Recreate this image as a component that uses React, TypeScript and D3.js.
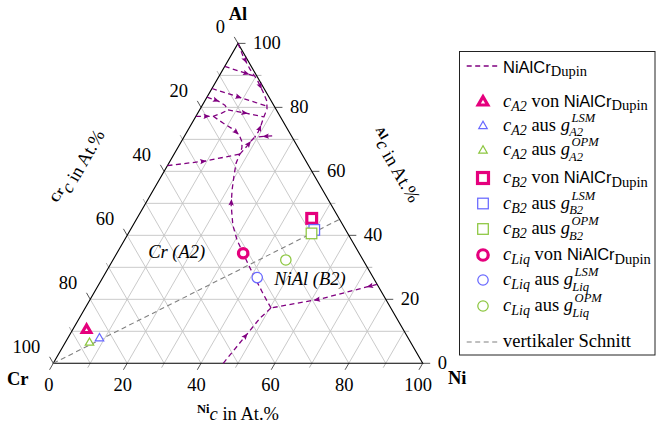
import React from 'react';
import * as d3 from 'd3';

// ---------------- data (compositions in at.%: [Ni, Al], Cr = 100 - Ni - Al) ----------------
const gridValues = [10, 20, 30, 40, 50, 60, 70, 80, 90];
const tickValues = [0, 10, 20, 30, 40, 50, 60, 70, 80, 90, 100];
const tickLabels = [0, 20, 40, 60, 80, 100];

const curveSpineTop = [[0, 100], [3.3, 96.1], [7.2, 92.0], [10.9, 88.6], [14.4, 84.8], [16.8, 82.0], [18.1, 79.5], [18.5, 77.0], [19.0, 74.5], [19.3, 72.3], [19.2, 70.7]];
const curveSpineMid = [[17.8, 65.4], [18.4, 67.6], [18.8, 69.5], [19.2, 70.7]];
const curveShortRight = [[23.7, 71.1], [19.2, 70.7]];
const curveSpineLow = [[50.3, 17.3], [48.1, 19.5], [45.4, 22.3], [41.9, 26.0], [37.8, 30.4], [34.1, 34.5], [30.5, 38.5], [27.0, 43.2], [23.4, 49.5], [21.3, 54.2], [19.5, 58.9], [18.2, 62.6], [17.8, 65.4]];
const curveEdgeToE = [[75.3, 24.7], [62.2, 20.1], [50.3, 17.3]];
const curveBaseToE = [[46.0, 0], [48.9, 14.1], [50.3, 17.3]];
const curveL1 = [[0, 92.8], [9.8, 89.7]];
const curveL2 = [[0, 85.9], [17.6, 80.4]];
const curveL3 = [[0, 83.2], [3.6, 82.0], [6.1, 80.7], [7.7, 79.2]];
const curveL4 = [[0, 77.2], [4.7, 77.2], [6.5, 78.2], [7.7, 79.2]];
const curveBranch = [[4.7, 77.2], [8.4, 75.1], [12.0, 73.2], [14.6, 71.4], [16.5, 69.2], [17.4, 67.3], [17.8, 65.4]];
const curveL3b = [[7.7, 79.2], [13.4, 78.1], [18.5, 77.0]];
const curveL5 = [[0, 61.8], [9.4, 63.2], [17.8, 65.4]];

const dupinCurves = [curveSpineTop, curveSpineMid, curveShortRight, curveSpineLow, curveEdgeToE, curveBaseToE, curveL1, curveL2, curveL3, curveL4, curveBranch, curveL3b, curveL5];
// [curve index, segment index, fraction along segment, reversed]
const dupinArrows: [number, number, number, boolean][] = [
  [0, 1, 0.3, false], [0, 3, 0.5, false], [0, 8, 0.5, true], [1, 1, 0.5, false], [2, 0, 0.35, false],
  [3, 8, 0.15, false], [4, 0, 0.12, false], [4, 1, 0.06, false], [5, 0, 0.6, false], [6, 0, 0.7, false],
  [7, 0, 0.48, false], [8, 0, 0.8, false], [9, 0, 0.6, false], [10, 2, 0.5, false], [11, 0, 0.85, false], [12, 0, 0.95, false],
];

// order: Dupin, LSM, OPM
const cA2 = [[3.7, 10.6], [8.5, 8.0], [6.5, 6.6]];
const cB2 = [[47.3, 45.3], [49.8, 41.7], [49.6, 40.6]];
const cLiq = [[34.2, 34.4], [41.8, 26.8], [46.8, 32.3]];
const verticalSection = [[0, 0], [55, 45]];
const regionLabels = ['Cr (A2)', 'NiAl (B2)'];
const regionLabelPos = [[16.0, 34.8], [56.3, 26.4]];

// ---------------- layout / style ----------------
const W = 656, H = 425;
const CR_X = 53.3, NI_X = 422.7, BASE_Y = 363.3;
const SIDE = NI_X - CR_X;
const APEX_Y = BASE_Y - SIDE * Math.sqrt(3) / 2;
const xScale = d3.scaleLinear().domain([0, 100]).range([CR_X, NI_X]);
const yScale = d3.scaleLinear().domain([0, 100]).range([BASE_Y, APEX_Y]);
const proj = (p: number[]) => [xScale(p[0] + p[1] / 2), yScale(p[1])];

const PURPLE = '#800080';
const MAGENTA = '#e5007d';
const BLUE = '#6868ff';
const GREEN = '#8cc63f';
const DASH_GRAY = '#808080';
const GRID = '#c4c4c4';
const colors = [MAGENTA, BLUE, GREEN];
const SERIF = "'Liberation Serif', 'Times New Roman', serif";
const SANS = "'Liberation Sans', Arial, sans-serif";

function Marker({ shape, x, y, color, heavy, k = 1 }: any) {
  const sw = heavy ? 3.2 : 1.25;
  if (shape === 'tri') {
    const s = (heavy ? 8.6 : 8.4) * k;
    const h = (s * Math.sqrt(3)) / 2;
    const pts = [[x, y - h * 0.58], [x - s / 2, y + h * 0.42], [x + s / 2, y + h * 0.42]];
    return <polygon points={pts.map((p) => p.join(',')).join(' ')} fill="white" stroke={color} strokeWidth={sw} strokeLinejoin="miter" />;
  }
  if (shape === 'sq') {
    const s = (heavy ? 9.8 : 10.6) * k;
    return <rect x={x - s / 2} y={y - s / 2} width={s} height={s} fill="white" stroke={color} strokeWidth={sw} />;
  }
  const r = (heavy ? 4.7 : 5.2) * k;
  return <circle cx={x} cy={y} r={r} fill="white" stroke={color} strokeWidth={sw} />;
}

const line = d3.line<number[]>().x((d) => proj(d)[0]).y((d) => proj(d)[1]);

function arrowPath(ci: number, si: number, t: number, rev: boolean) {
  const c = dupinCurves[ci];
  const a = c[si], b = c[si + 1];
  const p = proj([a[0] + (b[0] - a[0]) * t, a[1] + (b[1] - a[1]) * t]);
  const A = proj(a), B = proj(b);
  let dx = B[0] - A[0], dy = B[1] - A[1];
  const L = Math.hypot(dx, dy) || 1;
  dx /= L; dy /= L;
  if (rev) { dx = -dx; dy = -dy; }
  const nx = -dy, ny = dx;
  const tip = [p[0] + dx * 3.8, p[1] + dy * 3.8];
  const back = [p[0] - dx * 2.8, p[1] - dy * 2.8];
  const mid = [p[0] - dx * 1.6, p[1] - dy * 1.6];
  return `M${tip[0]},${tip[1]}L${back[0] + nx * 2.7},${back[1] + ny * 2.7}L${mid[0]},${mid[1]}L${back[0] - nx * 2.7},${back[1] - ny * 2.7}Z`;
}

function Sub({ children, dy = 4 }: any) {
  return <tspan fontStyle="italic" fontSize={14} dy={dy}>{children}</tspan>;
}

export default function App() {
  const shapes = ['tri', 'sq', 'circ'];
  const phaseData = [cA2, cB2, cLiq];
  const phaseSub = ['A2', 'B2', 'Liq'];
  const sources = ['Dupin', 'LSM', 'OPM'];
  const legendY = [66, 101.5, 125.5, 150, 178, 203.5, 229, 255, 280, 306, 342];

  const dir = { left: [-0.5, -Math.sqrt(3) / 2], bottom: [-0.5, Math.sqrt(3) / 2], right: [1, 0] };

  const ticks: any[] = [];
  tickValues.forEach((v) => {
    const major = v % 20 === 0;
    const len = major ? 7.5 : 5;
    const col = major ? '#555' : '#b4b4b4';
    const pr = proj([100 - v, v]);
    ticks.push(<line key={'r' + v} x1={pr[0]} y1={pr[1]} x2={pr[0] + dir.right[0] * len} y2={pr[1]} stroke={col} strokeWidth={1} />);
    const pb = proj([v, 0]);
    ticks.push(<line key={'b' + v} x1={pb[0]} y1={pb[1]} x2={pb[0] + dir.bottom[0] * len} y2={pb[1] + dir.bottom[1] * len} stroke={col} strokeWidth={1} />);
    const pl = proj([0, 100 - v]);
    ticks.push(<line key={'l' + v} x1={pl[0]} y1={pl[1]} x2={pl[0] + dir.left[0] * len} y2={pl[1] + dir.left[1] * len} stroke={col} strokeWidth={1} />);
  });

  return (
    <svg width={W} height={H} style={{ position: 'absolute', left: 0, top: 0, background: '#fff', fontFamily: SERIF }} fontFamily={SERIF}>
      <rect x={0} y={0} width={W} height={H} fill="#fff" />
      <g stroke={GRID} strokeWidth={0.9}>
        {gridValues.map((v) => {
          const a1 = proj([0, v]), a2 = proj([100 - v, v]);
          const n1 = proj([v, 0]), n2 = proj([v, 100 - v]);
          const c1 = proj([0, 100 - v]), c2 = proj([100 - v, 0]);
          return (
            <g key={v}>
              <line x1={a1[0]} y1={a1[1]} x2={a2[0]} y2={a2[1]} />
              <line x1={n1[0]} y1={n1[1]} x2={n2[0]} y2={n2[1]} />
              <line x1={c1[0]} y1={c1[1]} x2={c2[0]} y2={c2[1]} />
            </g>
          );
        })}
      </g>
      {ticks}
      <polygon points={[proj([0, 0]), proj([100, 0]), proj([0, 100])].map((p) => p.join(',')).join(' ')} fill="none" stroke="#000" strokeWidth={1.1} />

      <g fontSize={18.5} fill="#000">
        {tickLabels.map((v) => {
          const pb = proj([v, 0]);
          const pr = proj([100 - v, v]);
          const pl = proj([0, 100 - v]);
          return (
            <g key={v}>
              <text x={pb[0] - 4.5} y={pb[1] + 28} textAnchor="middle">{v}</text>
              <text x={pr[0] + 15} y={pr[1] + 6} textAnchor="start">{v}</text>
              <text x={pl[0] - 13} y={pl[1] - 10.5} textAnchor="end">{v}</text>
            </g>
          );
        })}
      </g>

      <g fontSize={18.5} fontWeight="bold">
        <text x={proj([0, 100])[0]} y={20} textAnchor="middle">Al</text>
        <text x={7} y={385}>Cr</text>
        <text x={448} y={384}>Ni</text>
      </g>

      <text x={(CR_X + NI_X) / 2} y={420} textAnchor="middle" fontSize={18.5}>
        <tspan fontWeight="bold" fontSize={12.5} dy={-7}>Ni</tspan>
        <tspan fontStyle="italic" dy={7}>c</tspan>
        <tspan> in At.%</tspan>
      </text>
      <text transform="translate(80,168) rotate(-60)" y={5} textAnchor="middle" fontSize={18.5}>
        <tspan fontWeight="bold" fontSize={12.5} dy={-7}>Cr</tspan>
        <tspan fontStyle="italic" dy={7}>c</tspan>
        <tspan> in At.%</tspan>
      </text>
      <text transform="translate(394,166) rotate(60)" y={5} textAnchor="middle" fontSize={18.5}>
        <tspan fontWeight="bold" fontSize={12.5} dy={-7}>Al</tspan>
        <tspan fontStyle="italic" dy={7}>c</tspan>
        <tspan> in At.%</tspan>
      </text>

      {regionLabels.map((t, i) => {
        const p = proj(regionLabelPos[i]);
        return <text key={t} x={p[0]} y={p[1] + 6} textAnchor="middle" fontStyle="italic" fontSize={18.5}>{t}</text>;
      })}

      <path d={line(verticalSection) || ''} fill="none" stroke={DASH_GRAY} strokeWidth={1.1} strokeDasharray="5 3.5" />

      <g fill="none" stroke={PURPLE} strokeWidth={1.3} strokeDasharray="5 3.5">
        {dupinCurves.map((c, i) => <path key={i} d={line(c) || ''} />)}
      </g>
      <g fill={PURPLE}>
        {dupinArrows.map((a, i) => <path key={i} d={arrowPath(a[0], a[1], a[2], a[3])} />)}
      </g>

      {phaseData.map((arr, pi) =>
        arr.map((pt, si) => {
          const p = proj(pt);
          return <Marker key={pi + '-' + si} shape={shapes[pi]} x={p[0]} y={p[1]} color={colors[si]} heavy={si === 0} />;
        })
      )}

      <rect x={459.5} y={51.5} width={195.5} height={303.5} fill="white" stroke="#222" strokeWidth={1} />
      <line x1={466.7} x2={499} y1={legendY[0]} y2={legendY[0]} stroke={PURPLE} strokeWidth={1.3} strokeDasharray="5 3.5" />
      <text x={503} y={legendY[0] + 6.5} fontSize={18.5}>
        <tspan fontFamily={SANS} fontSize={16.5}>NiAlCr</tspan>
        <tspan fontSize={14.5} dy={3.5}>Dupin</tspan>
      </text>
      {phaseData.map((_, pi) =>
        sources.map((src, si) => {
          const row = 1 + pi * 3 + si;
          const y = legendY[row];
          const supW = src === 'LSM' ? 24.6 : 28.2;
          return (
            <g key={row}>
              <Marker shape={shapes[pi]} x={483} y={y} color={colors[si]} heavy={si === 0} k={si === 0 ? 1.12 : 1} />
              {si === 0 ? (
                <text x={503} y={y + 5} fontSize={18.5} style={{ whiteSpace: 'pre' }}>
                  <tspan fontStyle="italic">c</tspan>
                  <Sub>{phaseSub[pi]}</Sub>
                  <tspan dy={-4}> von </tspan>
                  <tspan fontFamily={SANS} fontSize={16.5}>NiAlCr</tspan>
                  <tspan fontSize={14.5} dy={3.5}>Dupin</tspan>
                </text>
              ) : (
                <g>
                  <text x={503} y={y + 5} fontSize={18.5} style={{ whiteSpace: 'pre' }}>
                    <tspan fontStyle="italic">c</tspan>
                    <Sub>{phaseSub[pi]}</Sub>
                    <tspan dy={-4}> aus </tspan>
                    <tspan fontStyle="italic">g</tspan>
                    <tspan fontStyle="italic" fontSize={12.6} dx={1.5} dy={-9}>{src}</tspan>
                    <tspan fontStyle="italic" fontSize={12.6} dx={-(supW + 1.5)} dy={14.5}>{phaseSub[pi]}</tspan>
                  </text>
                </g>
              )}
            </g>
          );
        })
      )}
      <line x1={466.7} x2={499} y1={legendY[10]} y2={legendY[10]} stroke={DASH_GRAY} strokeWidth={1.1} strokeDasharray="5 3.5" />
      <text x={503} y={legendY[10] + 5} fontSize={18.5}>vertikaler Schnitt</text>
    </svg>
  );
}
